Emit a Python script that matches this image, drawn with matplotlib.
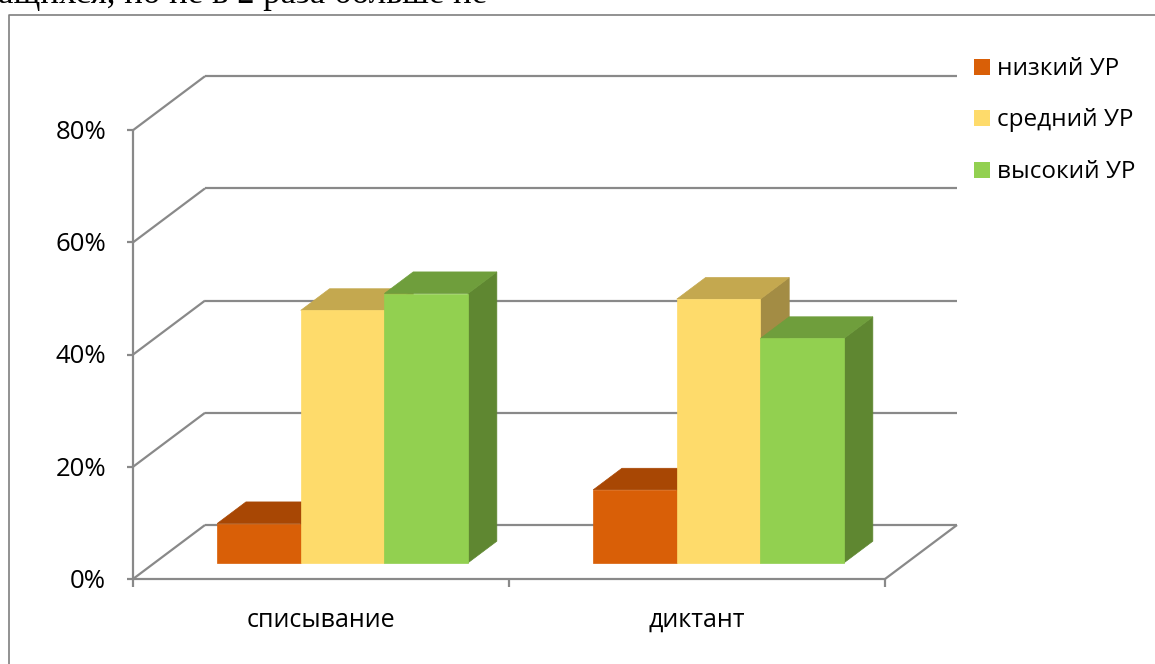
import matplotlib.pyplot as plt
from matplotlib.patches import Polygon, Rectangle
from matplotlib.lines import Line2D

categories = ['списывание', 'диктант']
series = ['низкий УР', 'средний УР', 'высокий УР']
low = [7, 13]
mid = [45, 47]
high = [48, 40]
values = [low, mid, high]
y_ticks = [0, 20, 40, 60, 80]

front_colors = ['#D95F07', '#FEDB6B', '#92D050']
top_colors = ['#A84704', '#C4A84F', '#6F9E3C']
side_colors = ['#8A3A03', '#A38C44', '#5F8731']

plt.rcParams['font.family'] = ['Open Sans', 'DejaVu Sans']

W, H = 1155, 664
fig = plt.figure(figsize=(W / 100, H / 100), dpi=100)
ax = fig.add_axes([0, 0, 1, 1])

# one category is 376 px wide, 1% is 5.61 px; front wall origin at (133, 579)
XS, YS = 376, 5.61
ax.set_xlim(-133 / XS, (W - 133) / XS)
ax.set_ylim(-(H - 579) / YS, 579 / YS)
ax.axis('off')

DX, DY = 72 / XS, 54 / YS   # full depth of the plot box
grid = '#898989'
lw = 1.6
n = len(categories)
ymax = y_ticks[-1]

def line(xs, ys):
    ax.plot(xs, ys, color=grid, lw=lw, solid_capstyle='butt', zorder=1)

# back wall and left wall gridlines
for t in y_ticks:
    line([DX, n + DX], [t + DY, t + DY])
    line([0, DX], [t, t + DY])

# floor edges, value axis and tick marks
line([0, n], [0, 0])
line([n, n + DX], [0, DY])
line([0, 0], [0, ymax])
for t in y_ticks:
    line([-6 / XS, 0], [t, t])
    ax.text(-27 / XS, t - 0.4, f'{t}%', ha='right', va='center', fontsize=18.5)
for i in range(n + 1):
    line([i, i], [0, -8 / YS])
for i, c in enumerate(categories):
    ax.text(i + 0.5, -48 / YS, c, ha='center', va='baseline', fontsize=18)

# 3d columns: front face from ax.bar, top and side faces as polygons
bw = 0.2224
f0, f1 = 0.3, 0.7
ddx, ddy = (f1 - f0) * DX, (f1 - f0) * DY
for i in range(n):
    for j, vals in enumerate(values):
        v = vals[i]
        x0 = i + 0.5 + (j - 1.5) * bw + f0 * DX
        x1 = x0 + bw
        base = f0 * DY
        top = base + v
        z = 3 + j
        ax.add_patch(Polygon([(x1, base), (x1 + ddx, base + ddy),
                              (x1 + ddx, top + ddy), (x1, top)],
                             closed=True, facecolor=side_colors[j],
                             edgecolor=side_colors[j], lw=0.5, zorder=z))
        ax.add_patch(Polygon([(x0, top), (x1, top),
                              (x1 + ddx, top + ddy), (x0 + ddx, top + ddy)],
                             closed=True, facecolor=top_colors[j],
                             edgecolor=top_colors[j], lw=0.5, zorder=z))
        ax.bar(x0, v, bw, bottom=base, align='edge', color=front_colors[j],
               edgecolor=front_colors[j], lw=0.5, zorder=z + 0.5)

# legend
for j, name in enumerate(series):
    cy = [66.5, 118, 169.5][j]
    fig.add_artist(Rectangle((974 / W, 1 - (cy + 8) / H), 16 / W, 16 / H,
                             transform=fig.transFigure,
                             facecolor=front_colors[j], edgecolor='none'))
    fig.text(997 / W, 1 - (cy + 8.5) / H, name, ha='left', va='baseline',
             fontsize=17.5)

# chart frame
fig.add_artist(Line2D([8.5 / W, 8.5 / W, 1], [0, 1 - 14.5 / H, 1 - 14.5 / H],
                      transform=fig.transFigure, color='#7F7F7F', lw=1.2))

# last line of the document text above the chart
fig.text(-2 / W, 1 - 3 / H, 'ащихся, но не в 2 раза больше не',
         family='Liberation Serif', fontsize=25, va='baseline', ha='left')

fig.savefig('out.png', dpi=100)
